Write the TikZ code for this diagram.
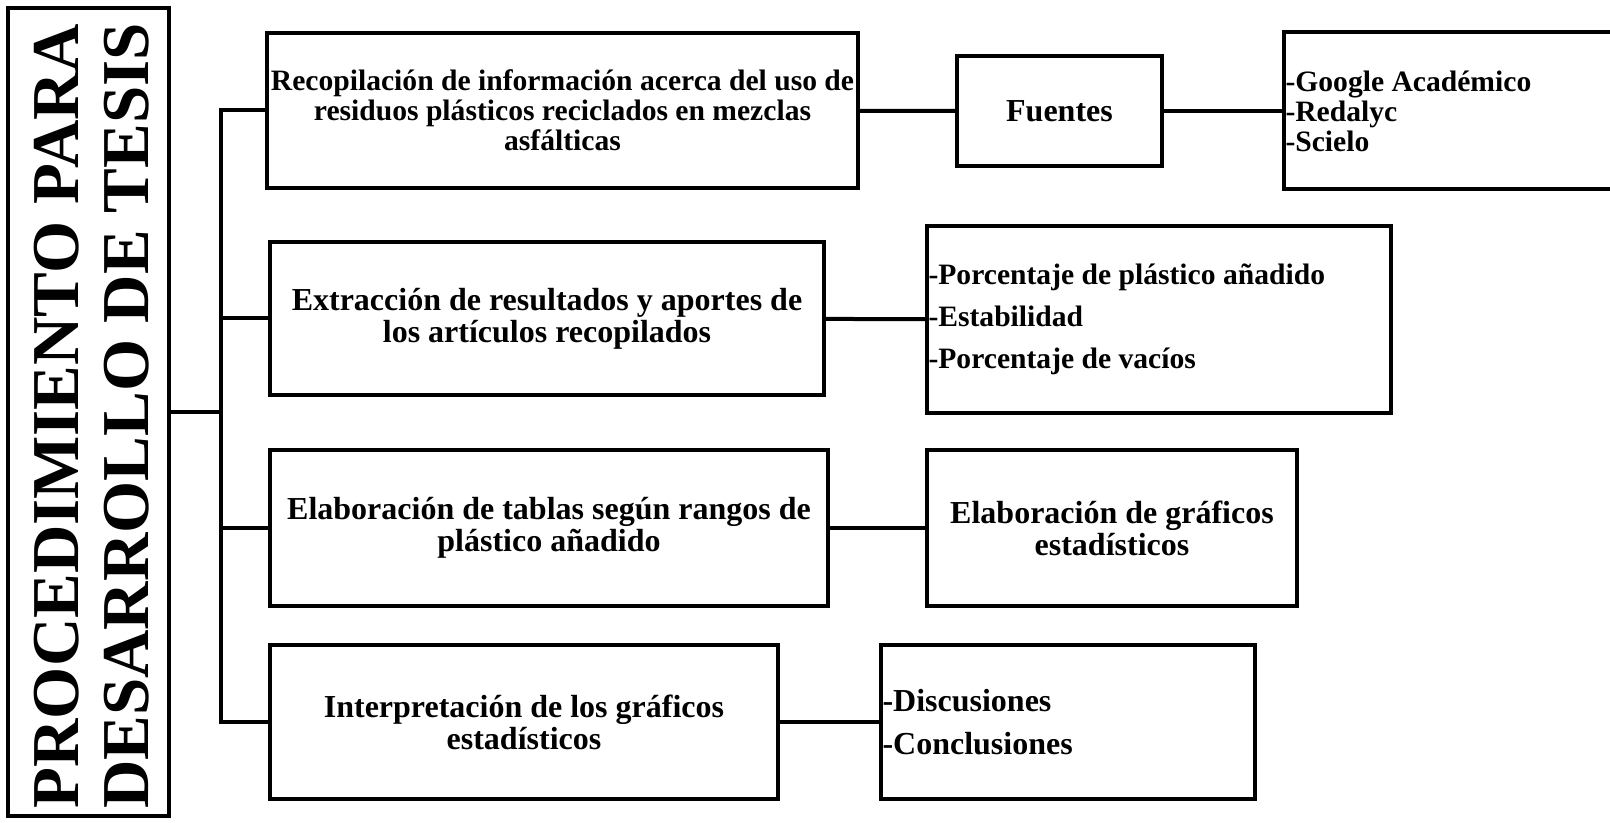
\documentclass[tikz,border=0pt]{standalone}
\usepackage{fontspec}
\setmainfont{Liberation Serif}
\usetikzlibrary{positioning,calc}

\begin{document}
\begin{tikzpicture}[
  x=0.5pt, y=-0.5pt,
  box/.style={
    rectangle, draw=black, line width=2pt, align=center,
    inner sep=2pt, font=\fontsize{16}{16}\selectfont\bfseries
  },
  listbox/.style={
    box, align=flush left, inner xsep=1pt
  },
  link/.style={line width=2pt, line cap=rect}
]
\useasboundingbox (0,0) rectangle (1610,823);

% === Title ===
\node[box, minimum width=80.5pt, minimum height=404pt] (title) at (88.5,412) {};
\node[rotate=90, align=center, font=\fontsize{33.5}{35}\selectfont\bfseries] (ttext) at ($(title.center)+(3,4)$)
  {PROCEDIMIENTO PARA\\DESARROLLO DE TESIS};

% === Steps ===
\node[box, minimum width=292.5pt, minimum height=77.5pt, font=\fontsize{14.8}{15}\selectfont\bfseries] (rec) at (562.5,110.5)
  {Recopilación de información acerca del uso de\\residuos plásticos reciclados en mezclas\\asfálticas};
\node[box, minimum width=277pt, minimum height=76.5pt] (ext) at (547,318.5)
  {Extracción de resultados y aportes de\\los artículos recopilados};
\node[box, minimum width=279pt, minimum height=78pt] (tab) at (549,528)
  {Elaboración de tablas según rangos de\\plástico añadido};
\node[box, minimum width=254pt, minimum height=77pt] (int) at (524,722)
  {Interpretación de los gráficos\\estadísticos};

% === Details ===
\node[box, minimum width=102.5pt, minimum height=55pt] (fue) at (1059.5,111) {Fuentes};
\node[listbox, text width=176pt, minimum height=78.5pt, font=\fontsize{14.8}{15}\selectfont\bfseries] (bas) at (1461.5,111)
  {-Google Académico\\-Redalyc\\-Scielo};
\node[listbox, text width=230pt, minimum height=93.5pt, font=\fontsize{14.8}{21}\selectfont\bfseries] (var) at (1158.5,319.5)
  {-Porcentaje de plástico añadido\\-Estabilidad\\-Porcentaje de vacíos};
\node[box, minimum width=185pt, minimum height=78pt] (gra) at (1112,528)
  {Elaboración de gráficos\\estadísticos};
\node[listbox, text width=185pt, minimum height=77pt, font=\fontsize{16}{21.5}\selectfont\bfseries] (con) at (1067.5,722)
  {-Discusiones\\-Conclusiones};

% === Connectors ===
\draw[link] (title.east) -- ++(50,0) coordinate (trunk);
\draw[link] (rec.west) -| (trunk) |- (int.west);
\draw[link] (ext.west) -- (ext.west -| trunk);
\draw[link] (tab.west) -- (tab.west -| trunk);

\draw[link] (rec) -- (fue);
\draw[link] (fue) -- (bas);
\draw[link] (ext) -- (var);
\draw[link] (tab) -- (gra);
\draw[link] (int) -- (con);

\end{tikzpicture}
\end{document}
